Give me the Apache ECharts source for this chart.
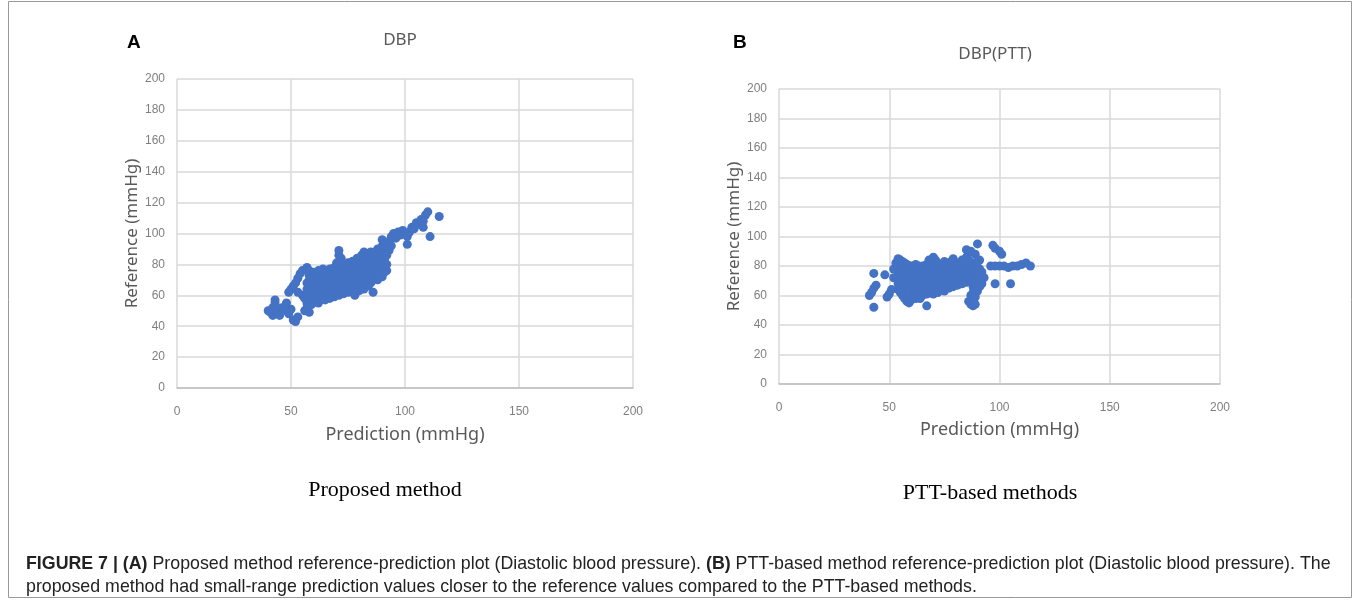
<!DOCTYPE html>
<html>
<head>
<meta charset="utf-8">
<script src="https://cdn.jsdelivr.net/npm/echarts@6/dist/echarts.min.js"></script>
<style>
  html, body { margin: 0; padding: 0; background: #fff; }
  #chart { width: 1360px; height: 608px; }
</style>
</head>
<body>
<div id="chart"></div>
<script>
// axis ticks shared by both panels
var xTicks = [0, 50, 100, 150, 200];
var yTicks = [0, 20, 40, 60, 80, 100, 120, 140, 160, 180, 200];

// panel A: proposed method, [prediction, reference]
var proposedPoints = [
    [40,50],[41,49],[42,52],[42,47],[43,57],[43,55],[44,50],[45,47],[46,52],[48,55],[48,50],[49,48],
    [50,51],[51,44],[52,43],[53,46],[49,62],[50,64],[51,66],[52,68],[53,71],[54,74],[53,62],[55,60],
    [56,58],[56,50],[57,52],[58,49],[55,76],[57,78],[58,76],
    [57,55],[57,60],[57,64],[57,68],
    [58,57],[58,62],[58,66],[58,70],[58,73],
    [59,54],[59,59],[59,63],[59,67],[59,71],
    [60,56],[60,60],[60,64],[60,68],[60,72],[60,75],
    [61,58],[61,62],[61,66],[61,70],[61,74],
    [62,55],[62,59],[62,63],[62,67],[62,71],[62,76],
    [63,57],[63,61],[63,65],[63,69],[63,73],
    [64,58],[64,62],[64,66],[64,70],[64,74],[64,77],
    [65,57],[65,60],[65,64],[65,68],[65,72],[65,76],
    [66,59],[66,63],[66,67],[66,71],[66,75],
    [67,58],[67,61],[67,65],[67,69],[67,73],[67,77],
    [68,60],[68,64],[68,68],[68,72],[68,76],
    [69,59],[69,62],[69,66],[69,70],[69,74],[69,78],
    [70,61],[70,65],[70,69],[70,73],[70,77],[70,81],
    [71,60],[71,63],[71,67],[71,71],[71,75],[71,79],[71,86],[71,89],
    [72,62],[72,66],[72,70],[72,74],[72,78],[72,84],
    [73,61],[73,64],[73,68],[73,72],[73,76],[73,80],
    [74,63],[74,67],[74,71],[74,75],[74,79],
    [75,62],[75,65],[75,69],[75,73],[75,77],[75,81],
    [76,64],[76,68],[76,72],[76,76],[76,80],
    [77,62],[77,66],[77,70],[77,74],[77,78],[77,82],
    [78,60],[78,64],[78,68],[78,72],[78,76],[78,80],
    [79,65],[79,69],[79,73],[79,77],[79,81],[79,84],
    [80,63],[80,67],[80,71],[80,75],[80,79],[80,83],
    [81,65],[81,69],[81,73],[81,77],[81,81],[81,86],
    [82,64],[82,68],[82,72],[82,76],[82,80],[82,84],[82,88],
    [83,67],[83,71],[83,75],[83,79],[83,83],[83,87],
    [84,66],[84,70],[84,74],[84,78],[84,82],[84,86],
    [85,68],[85,72],[85,76],[85,80],[85,84],[85,88],
    [86,62],[86,70],[86,74],[86,78],[86,82],[86,86],
    [87,72],[87,76],[87,80],[87,84],[87,88],
    [88,70],[88,74],[88,78],[88,82],[88,86],[88,90],
    [89,73],[89,77],[89,81],[89,85],[89,89],
    [90,72],[90,76],[90,80],[90,84],[90,88],[90,92],[90,96],
    [91,75],[91,79],[91,83],[91,87],[91,93],
    [92,76],[92,80],[92,86],
    [93,95],[94,98],[95,100],[96,97],[97,101],[98,99],[99,102],[100,100],[101,93],[101,98],
    [102,101],[103,104],[104,103],[105,107],[106,106],[107,109],[108,104],[109,112],[110,114],
    [111,98],[108,108],[115,111],[93,89],[94,92]
];

// panel B: PTT-based method, [prediction, reference]
var pttPoints = [
    [41,60],[42,62],[43,65],[43,75],[43,52],[44,67],[48,74],[49,59],[50,61],[51,64],[52,72],[52,78],
    [53,82],[54,85],[55,84],[56,83],
    [54,64],[54,68],[54,72],[54,76],[54,80],
    [55,62],[55,66],[55,70],[55,74],[55,78],[55,82],
    [56,60],[56,64],[56,68],[56,72],[56,76],[56,80],
    [57,58],[57,62],[57,66],[57,70],[57,74],[57,78],[57,82],
    [58,56],[58,61],[58,65],[58,69],[58,73],[58,77],[58,81],
    [59,55],[59,59],[59,63],[59,67],[59,71],[59,75],[59,79],
    [60,57],[60,61],[60,65],[60,69],[60,73],[60,77],[60,80],
    [61,59],[61,63],[61,67],[61,71],[61,75],[61,79],
    [62,58],[62,62],[62,66],[62,70],[62,74],[62,78],[62,81],
    [63,60],[63,64],[63,68],[63,72],[63,76],[63,80],
    [64,58],[64,62],[64,66],[64,70],[64,74],[64,78],
    [65,60],[65,64],[65,68],[65,72],[65,76],[65,80],
    [66,62],[66,66],[66,70],[66,74],[66,78],
    [67,53],[67,61],[67,65],[67,69],[67,73],[67,77],[67,81],
    [68,63],[68,67],[68,71],[68,75],[68,79],[68,84],
    [69,62],[69,66],[69,70],[69,74],[69,78],[69,82],
    [70,61],[70,65],[70,69],[70,73],[70,77],[70,81],[70,86],
    [71,64],[71,68],[71,72],[71,76],[71,80],[71,84],
    [72,62],[72,66],[72,70],[72,74],[72,78],[72,82],
    [73,65],[73,69],[73,73],[73,77],[73,81],
    [74,64],[74,68],[74,72],[74,76],[74,80],
    [75,63],[75,67],[75,71],[75,75],[75,79],[75,83],
    [76,66],[76,70],[76,74],[76,78],[76,82],
    [77,65],[77,69],[77,73],[77,77],[77,81],
    [78,67],[78,71],[78,75],[78,79],[78,83],
    [79,66],[79,70],[79,74],[79,78],[79,82],[79,85],
    [80,68],[80,72],[80,76],[80,80],
    [81,67],[81,71],[81,75],[81,79],[81,82],
    [82,69],[82,73],[82,77],[82,81],
    [83,68],[83,72],[83,76],[83,80],[83,84],
    [84,70],[84,74],[84,78],[84,82],
    [85,69],[85,73],[85,77],[85,81],[85,86],[85,91],
    [86,56],[86,72],[86,76],[86,80],[86,84],[86,89],
    [87,54],[87,60],[87,71],[87,75],[87,79],[87,90],
    [88,53],[88,57],[88,62],[88,66],[88,74],[88,78],[88,82],
    [89,54],[89,59],[89,64],[89,69],[89,73],[89,77],[89,81],[89,88],
    [90,63],[90,67],[90,71],[90,75],[90,79],[90,83],[90,95],
    [91,66],[91,70],[91,74],[91,78],[91,84],
    [92,68],[92,72],[92,76],
    [93,72],[97,94],[98,92],[100,90],[101,88],[98,68],[105,68],[96,80],[98,80],[100,80],[102,80],
    [104,79],[106,80],[108,80],[110,81],[112,82],[114,80]
];

var chart = echarts.init(document.getElementById('chart'));

var greyText = '#595959';
var tickFont = { color: '#7f7f7f', fontSize: 12, fontFamily: '"Liberation Sans", sans-serif' };
var captionFont = '"Liberation Sans", sans-serif';

function xAxisFor(gridIndex, gap) {
    return {
        gridIndex: gridIndex, type: 'value', min: 0, max: 200, interval: 50,
        name: 'Prediction (mmHg)', nameLocation: 'middle', nameGap: gap,
        nameTextStyle: { color: greyText, fontSize: 18, fontFamily: 'Noto Sans' },
        axisLine: { show: true, lineStyle: { color: '#bfbfbf', width: 1.5 } },
        axisTick: { show: false },
        axisLabel: Object.assign({ margin: 18, formatter: function (v) { return xTicks.indexOf(v) >= 0 ? v : ''; } }, tickFont),
        splitLine: { show: true, lineStyle: { color: '#d9d9d9', width: 1.5 } }
    };
}
function yAxisFor(gridIndex, gap) {
    return {
        gridIndex: gridIndex, type: 'value', min: 0, max: 200, interval: 20,
        name: 'Reference (mmHg)', nameLocation: 'middle', nameGap: gap,
        nameTextStyle: { color: greyText, fontSize: 17, fontFamily: 'Noto Sans' },
        axisLine: { show: false },
        axisTick: { show: false },
        axisLabel: Object.assign({ margin: 12, formatter: function (v) { return yTicks.indexOf(v) >= 0 ? v : ''; } }, tickFont),
        splitLine: { show: true, lineStyle: { color: '#d9d9d9', width: 1.5 } }
    };
}

var option = {
    backgroundColor: '#fff',
    animation: false,
    title: [
        { text: 'A', left: 122, top: 28, textStyle: { fontSize: 19, fontWeight: 'bold', color: '#000', fontFamily: 'Liberation Sans' } },
        { text: 'B', left: 728, top: 28, textStyle: { fontSize: 19, fontWeight: 'bold', color: '#000', fontFamily: 'Liberation Sans' } },
        { text: 'DBP', left: 395, top: 27, textAlign: 'center', textStyle: { fontSize: 17, fontWeight: 'normal', color: greyText, fontFamily: 'Noto Sans' } },
        { text: 'DBP(PTT)', left: 990, top: 41, textAlign: 'center', textStyle: { fontSize: 17, fontWeight: 'normal', color: greyText, fontFamily: 'Noto Sans' } },
        { text: 'Proposed method', left: 380, top: 474, textAlign: 'center', textStyle: { fontSize: 22, fontWeight: 'normal', color: '#000', fontFamily: 'Liberation Serif' } },
        { text: 'PTT-based methods', left: 985, top: 477, textAlign: 'center', textStyle: { fontSize: 22, fontWeight: 'normal', color: '#000', fontFamily: 'Liberation Serif' } },
        {
            text: '{b|FIGURE 7 | (A)} Proposed method reference-prediction plot (Diastolic blood pressure). {b|(B)} PTT-based method reference-prediction plot (Diastolic blood pressure). The\nproposed method had small-range prediction values closer to the reference values compared to the PTT-based methods.',
            left: 21, top: 548,
            textStyle: {
                fontSize: 17.8, fontWeight: 'normal', color: '#222', lineHeight: 23,
                fontFamily: captionFont,
                rich: { b: { fontSize: 17.8, fontWeight: 'bold', color: '#222', lineHeight: 23, fontFamily: captionFont } }
            }
        }
    ],
    graphic: [
        { type: 'rect', shape: { x: 8.5, y: 1.5, width: 1343, height: 596 }, style: { fill: 'none', stroke: '#999', lineWidth: 1 } }
    ],
    grid: [
        { left: 177, top: 79, width: 456, height: 309 },
        { left: 779, top: 89, width: 441, height: 295 }
    ],
    xAxis: [xAxisFor(0, 38), xAxisFor(1, 37)],
    yAxis: [yAxisFor(0, 36), yAxisFor(1, 34)],
    series: [
        { type: 'scatter', xAxisIndex: 0, yAxisIndex: 0, data: proposedPoints, symbolSize: 9, itemStyle: { color: '#4472c4', opacity: 1 } },
        { type: 'scatter', xAxisIndex: 1, yAxisIndex: 1, data: pttPoints, symbolSize: 9, itemStyle: { color: '#4472c4', opacity: 1 } }
    ]
};

chart.setOption(option);
</script>
</body>
</html>
